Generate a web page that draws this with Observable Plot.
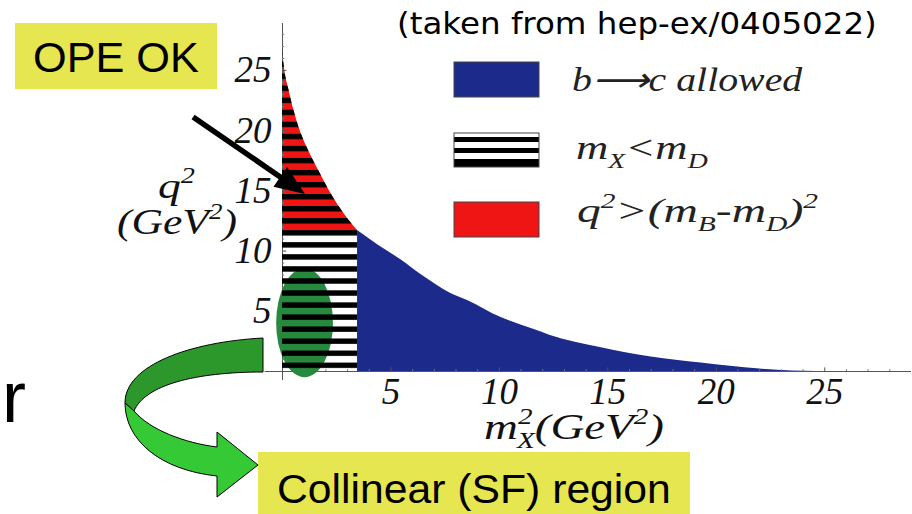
<!DOCTYPE html>
<html>
<head>
<meta charset="utf-8">
<script src="https://cdn.jsdelivr.net/npm/d3@7"></script>
<script src="https://cdn.jsdelivr.net/npm/@observablehq/plot@0.6"></script>
<style>
  html, body { margin: 0; padding: 0; background: #fff; }
  #chart { width: 912px; height: 514px; overflow: hidden; }
  svg { display: block; }
</style>
</head>
<body>
<div id="chart"></div>
<script>
// Phase-space boundary of B -> X l nu in the (m_X^2, q^2) plane, both in GeV^2
const m2Edge = [0, 0.14, 0.28, 0.51, 0.83, 1.06, 1.4, 1.75, 2.1, 2.53, 3.0, 3.46,
                4.4, 5.44, 6.5, 7.74, 8.53, 10.05, 11.57, 12.35, 14.65, 17.0, 19.3, 22.0, 23.5, 24.6];
const q2Edge = [26.6, 24.6, 23.5, 21.8, 19.9, 18.9, 17.6, 16.4, 15.2, 13.9, 12.7, 11.7,
                10.5, 9.3, 7.9, 6.5, 5.9, 4.5, 3.5, 3.0, 2.0, 1.2, 0.7, 0.2, 0.05, 0];
const mD2 = 3.46;     // m_D^2 : charm threshold
const q2Cut = 11.7;   // (m_B - m_D)^2

// Axis ticks
const xTicks = [5, 10, 15, 20, 25];
const yTicks = [5, 10, 15, 20, 25];
const xMinor = [1,2,3,4,6,7,8,9,11,12,13,14,16,17,18,19,21,22,23,24,26,27,28];
const yMinor = [1,2,3,4,6,7,8,9,11,12,13,14,16,17,18,19,21,22,23,24,26,27,28];

// Collinear (shape-function) region, centre and half-axes in GeV^2
const collinear = {m2: 1.04, q2: 4.0, rm2: 1.31, rq2: 4.52};
// Arrow pointing into the OPE region: [m2, q2] of tail and tip
const opeArrow = {from: [-4.1, 21.1], to: [1.06, 14.7]};

// q^2 stripe band inside each 1 GeV^2 step
const stripeBand = [0.25, 0.7];

const blue = "#1b2a8b", red = "#f01515", green = "#27893d", yellow = "#e6e650";
const W = 912, H = 514;
const xDomain = [0, 29], yDomain = [0, 28.9];
const margin = {left: 282, right: 1, top: 23, bottom: 143};

const edge = m2Edge.map((m2, i) => ({m2, q2: q2Edge[i]}));
const light = edge.filter(d => d.m2 <= mD2);
const heavy = edge.filter(d => d.m2 >= mD2);

function scalesOf(scales) {
  const x = typeof scales?.x === "function" ? scales.x
    : d3.scaleLinear(xDomain, [margin.left, W - margin.right]);
  const y = typeof scales?.y === "function" ? scales.y
    : d3.scaleLinear(yDomain, [H - margin.bottom, margin.top]);
  return {x, y};
}

// Text with sub/superscripts built from tspans
function richText(parent, {x, y, parts, size, family, italic, fill = "#111", width}) {
  const t = parent.append("text").attr("x", x).attr("y", y).attr("text-anchor", "start")
    .attr("font-family", family).attr("font-size", size).attr("fill", fill);
  if (italic) t.attr("font-style", "italic");
  if (width) t.attr("data-width", width);
  let cur = 0;
  for (const p of parts) {
    const [s, kind, dx] = typeof p === "string" ? [p] : p;
    const off = kind === "sup" ? -0.42 * size : kind === "sub" ? 0.26 * size : 0;
    const ts = t.append("tspan").text(s).attr("dy", off - cur);
    if (kind) ts.attr("font-size", 0.62 * size);
    if (dx) ts.attr("dx", dx * size);
    cur = off;
  }
  return t;
}

// Horizontal hatch pattern locked to the q^2 scale
const stripeDefs = (index, scales) => {
  const {y} = scalesOf(scales);
  const P = y(0) - y(1);
  const defs = d3.create("svg:defs");
  const pat = defs.append("pattern").attr("id", "q2stripes")
    .attr("patternUnits", "userSpaceOnUse")
    .attr("x", 0).attr("y", y(stripeBand[1])).attr("width", W).attr("height", P);
  pat.append("rect").attr("width", W)
    .attr("height", (stripeBand[1] - stripeBand[0]) * P).attr("fill", "#000");
  return defs.node();
};

// Green ellipse marking the collinear region
const ellipseMark = (index, scales) => {
  const {x, y} = scalesOf(scales);
  const g = d3.create("svg:g");
  g.append("ellipse")
    .attr("cx", x(collinear.m2)).attr("cy", y(collinear.q2))
    .attr("rx", x(collinear.rm2) - x(0)).attr("ry", y(0) - y(collinear.rq2))
    .attr("fill", green);
  return g.node();
};

// Callouts, legend, axis titles and arrows
const annotations = (index, scales) => {
  const {x, y} = scalesOf(scales);
  const g = d3.create("svg:g").attr("text-anchor", "start");

  // Arrow into the OPE region
  const sx = x(opeArrow.from[0]), sy = y(opeArrow.from[1]);
  const tx = x(opeArrow.to[0]), ty = y(opeArrow.to[1]);
  const L = Math.hypot(tx - sx, ty - sy), ux = (tx - sx) / L, uy = (ty - sy) / L;
  const nx = -uy, ny = ux, headLen = 30, headHalf = 12;
  const bx = tx - ux * headLen, by = ty - uy * headLen;
  g.append("line").attr("x1", sx).attr("y1", sy).attr("x2", bx + ux * 3).attr("y2", by + uy * 3)
    .attr("stroke", "#000").attr("stroke-width", 5.5);
  g.append("path")
    .attr("d", `M${tx},${ty}L${bx + nx * headHalf},${by + ny * headHalf}L${bx - nx * headHalf},${by - ny * headHalf}Z`)
    .attr("fill", "#000");

  // Curled ribbon arrow from the ellipse down to the collinear callout
  g.append("path")
    .attr("d", "M263,338C190,342 125,365 125,403L134,411C145,385 195,372 263,372Z")
    .attr("fill", "#2c982c").attr("stroke", "#000").attr("stroke-width", 1);
  g.append("path")
    .attr("d", "M125,403C125,440 160,470 217,476L217,497L258,465L217,432L217,447C185,443 150,430 134,411Z")
    .attr("fill", "#36c936").attr("stroke", "#000").attr("stroke-width", 1);

  const sans = "Liberation Sans, Arial, sans-serif";
  // Callout boxes
  g.append("rect").attr("x", 15).attr("y", 23).attr("width", 202).attr("height", 66).attr("fill", yellow);
  g.append("text").attr("x", 33).attr("y", 72).attr("font-family", sans)
    .attr("font-size", 42).attr("fill", "#000").attr("data-width", 166).text("OPE OK");
  g.append("rect").attr("x", 258).attr("y", 452).attr("width", 432).attr("height", 70).attr("fill", yellow);
  g.append("text").attr("x", 277).attr("y", 503).attr("font-family", sans)
    .attr("font-size", 40).attr("fill", "#000").attr("data-width", 394).text("Collinear (SF) region");
  g.append("text").attr("x", 2).attr("y", 422).attr("font-family", sans)
    .attr("font-size", 72).attr("fill", "#000").text("r");

  // Source note
  g.append("text").attr("x", 397).attr("y", 34).attr("font-family", "DejaVu Sans, sans-serif")
    .attr("font-size", 31).attr("fill", "#000").attr("data-width", 480)
    .text("(taken from hep-ex/0405022)");

  // Axis titles
  const serif = "Liberation Serif, Times New Roman, serif";
  richText(g, {x: 158, y: 198, parts: ["q", ["2", "sup"]], size: 36, family: serif, italic: true, width: 37});
  richText(g, {x: 117, y: 234, parts: ["(GeV", ["2", "sup"], ")"], size: 36, family: serif, italic: true, width: 120});
  richText(g, {x: 484, y: 439, parts: ["m", ["2", "sup"], ["X", "sub", -0.33], "(GeV", ["2", "sup"], ")"],
    size: 36, family: serif, italic: true, width: 180});

  // Legend
  g.append("rect").attr("x", 454).attr("y", 62).attr("width", 85).attr("height", 35)
    .attr("fill", blue).attr("stroke", "#444").attr("stroke-width", 1);
  const sw = g.append("g");
  sw.append("rect").attr("x", 454).attr("y", 133).attr("width", 85).attr("height", 34).attr("fill", "#fff");
  for (const [y0, y1] of [[137, 142], [148, 153], [159, 167]]) {
    sw.append("rect").attr("x", 454).attr("y", y0).attr("width", 85).attr("height", y1 - y0).attr("fill", "#000");
  }
  sw.append("rect").attr("x", 454).attr("y", 133).attr("width", 85).attr("height", 34)
    .attr("fill", "none").attr("stroke", "#444").attr("stroke-width", 1);
  g.append("rect").attr("x", 454).attr("y", 202).attr("width", 85).attr("height", 35)
    .attr("fill", red).attr("stroke", "#444").attr("stroke-width", 1);

  richText(g, {x: 572, y: 91, parts: ["b\u27F6c allowed"], size: 33, family: serif, italic: true, fill: "#222", width: 231});
  richText(g, {x: 576, y: 159, parts: ["m", ["X", "sub"], "<m", ["D", "sub"]], size: 33, family: serif, italic: true, fill: "#222", width: 132});
  richText(g, {x: 577, y: 222, parts: ["q", ["2", "sup"], ">(m", ["B", "sub"], "-m", ["D", "sub"], ")", ["2", "sup"]],
    size: 33, family: serif, italic: true, fill: "#222", width: 241});
  return g.node();
};

const tickFont = {fontFamily: "Liberation Serif, Times New Roman, serif", fontStyle: "italic", fontSize: 37, fill: "#111"};

const chart = Plot.plot({
  width: W, height: H,
  marginLeft: margin.left, marginRight: margin.right, marginTop: margin.top, marginBottom: margin.bottom,
  x: {domain: xDomain, axis: null},
  y: {domain: yDomain, axis: null},
  style: {background: "white", overflow: "visible"},
  marks: [
    stripeDefs,
    // b -> c allowed region
    Plot.areaY(heavy, {x: "m2", y1: 0, y2: "q2", fill: blue, curve: "monotone-x"}),
    // q^2 > (m_B - m_D)^2
    Plot.areaY(light, {x: "m2", y1: q2Cut, y2: "q2", fill: red, curve: "monotone-x"}),
    // axes crossing at the origin
    Plot.ruleY([0], {x1: -0.8, x2: xDomain[1], stroke: "#555", strokeWidth: 1}),
    Plot.ruleX([0], {y1: -0.75, y2: yDomain[1], stroke: "#555", strokeWidth: 1}),
    Plot.ruleX(xMinor, {y1: 0, y2: 0.15, stroke: "#777", strokeWidth: 1}),
    Plot.ruleX(xTicks, {y1: 0, y2: 0.3, stroke: "#555", strokeWidth: 1}),
    Plot.ruleY(yMinor, {x1: 0, x2: 0.1, stroke: "#777", strokeWidth: 1}),
    Plot.ruleY(yTicks, {x1: 0, x2: 0.2, stroke: "#555", strokeWidth: 1}),
    ellipseMark,
    // m_X < m_D region, hatched
    Plot.areaY(light, {x: "m2", y1: 0, y2: "q2", fill: "url(#q2stripes)", curve: "monotone-x"}),
    Plot.text(xTicks, {x: d => d, y: 0, dy: 21, text: d => `${d}`, ...tickFont}),
    Plot.text(yTicks, {x: 0, y: d => d, dx: -11, textAnchor: "end", text: d => `${d}`, ...tickFont}),
    annotations
  ]
});

document.getElementById("chart").append(chart);

// Fit stretched labels to their target widths
chart.querySelectorAll("text[data-width]").forEach(t => {
  const bb = t.getBBox();
  if (!bb.width) return;
  const x0 = +t.getAttribute("x");
  const s = +t.dataset.width / bb.width;
  t.setAttribute("transform", `translate(${x0},0) scale(${s},1) translate(${-x0},0)`);
});
</script>
</body>
</html>
